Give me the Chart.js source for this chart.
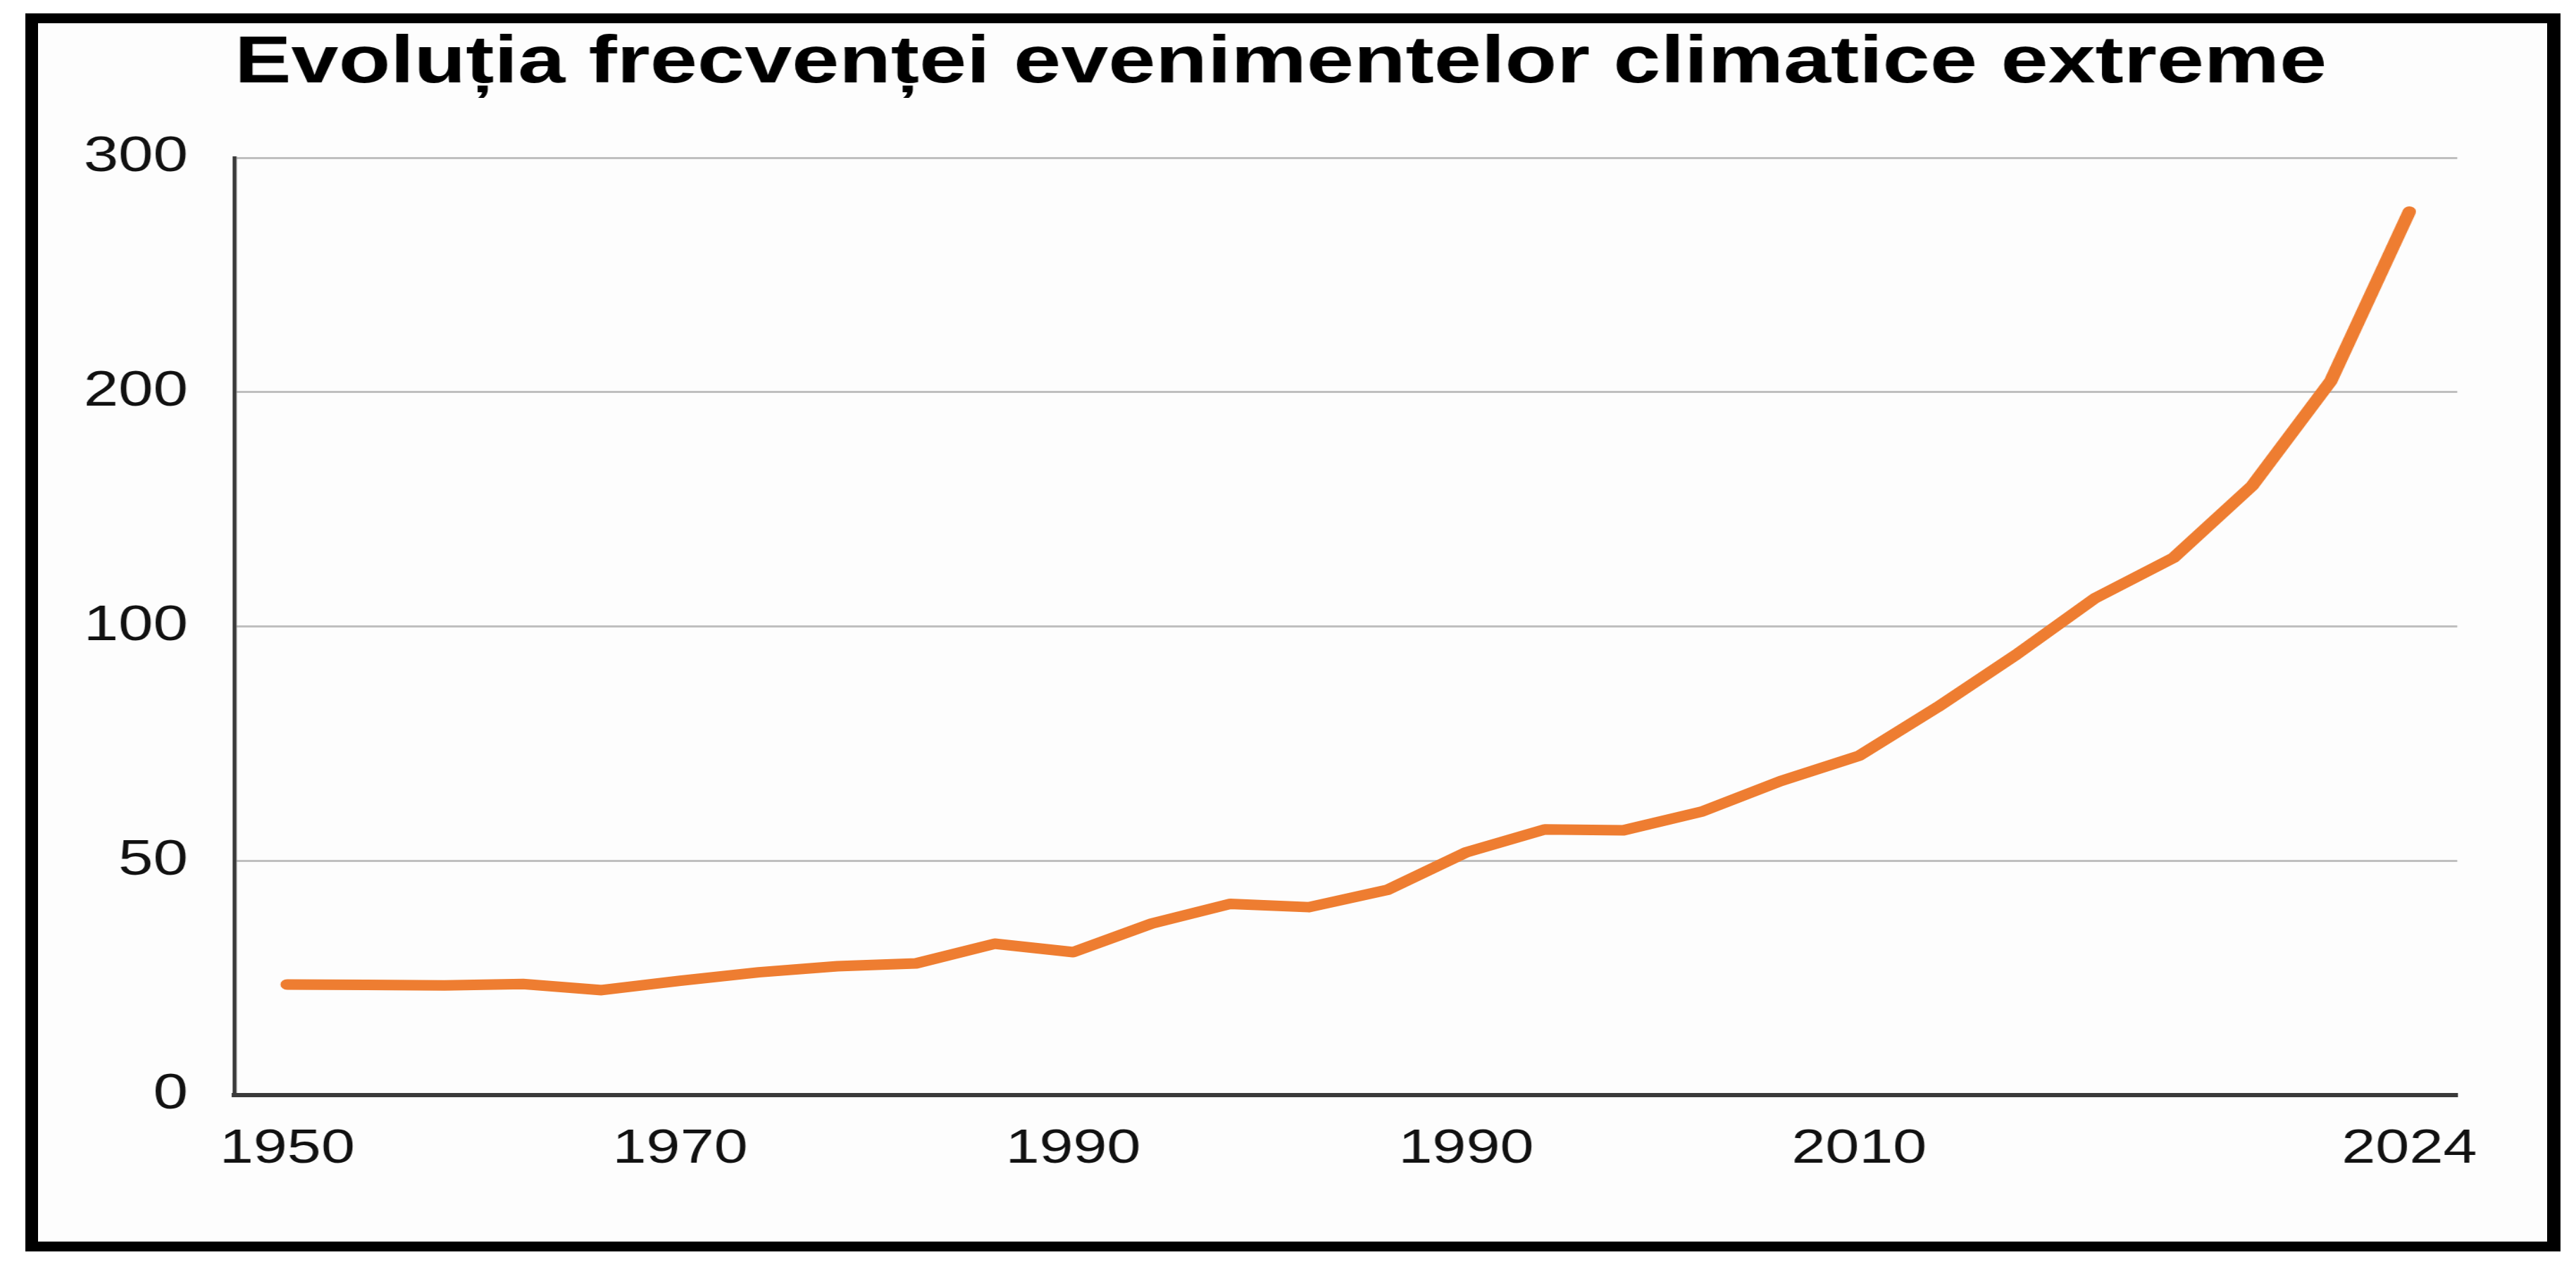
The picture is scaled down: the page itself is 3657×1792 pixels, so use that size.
<!DOCTYPE html>
<html>
<head>
<meta charset="utf-8">
<script src="https://cdn.jsdelivr.net/npm/chart.js@4.4.1/dist/chart.umd.min.js"></script>
<style>
  html, body { margin: 0; padding: 0; background: #ffffff; width: 3657px; height: 1792px; overflow: hidden; }
  #frame { position: absolute; left: 36px; top: 19px; width: 3599px; height: 1758px; box-sizing: border-box;
           border-style: solid; border-color: #000; border-width: 14px 19px 14px 18px; background: #fdfdfd; }
  #c { position: absolute; left: 0; top: 0; }
</style>
</head>
<body>
<div id="frame"></div>
<canvas id="c"></canvas>
<script>
// ---- data ----
const titleText = 'Evoluția frecvenței evenimentelor climatice extreme';
const values = [23.6, 23.5, 23.4, 23.7, 22.4, 24.4, 26.2, 27.5, 28.1, 32.3, 30.5, 36.6, 40.8, 40.1,
                43.8, 51.8, 56.7, 56.5, 60.5, 67.0, 72.4, 82.8, 94.0, 112.0, 129.3, 160.0, 204.7, 277.0];
const pointIndex = values.map((_, i) => i);
const xTickPositions = [0, 5, 10, 15, 20, 27];
const xTickLabels = ['1950', '1970', '1990', '1990', '2010', '2024'];
const yTickValues = [0, 50, 100, 200, 300];
const yTickLabels = ['0', '50', '100', '200', '300'];

// ---- horizontal stretch of the original picture ----
const S = 1.27;
const W = Math.round(3657 / S);
const H = 1792;
const canvas = document.getElementById('c');
canvas.width = W;
canvas.height = H;
canvas.style.width = '3657px';
canvas.style.height = H + 'px';

// value axis whose ticks are evenly spaced (0, 50, 100, 200, 300)
function valueToPos(v) {
  const t = yTickValues;
  for (let i = 0; i < t.length - 1; i++) {
    if (v <= t[i + 1]) return i + (v - t[i]) / (t[i + 1] - t[i]);
  }
  const n = t.length - 1;
  return n - 1 + (v - t[n - 1]) / (t[n] - t[n - 1]);
}
function posToValue(p) {
  const t = yTickValues;
  let i = Math.max(0, Math.min(t.length - 2, Math.floor(p)));
  return t[i] + (p - i) * (t[i + 1] - t[i]);
}
class BreakScale extends Chart.LinearScale {
  getPixelForValue(value) {
    if (value === null || value === undefined || isNaN(value)) return NaN;
    return this.getPixelForDecimal(valueToPos(value) / (yTickValues.length - 1));
  }
  getValueForPixel(pixel) {
    return posToValue(this.getDecimalForPixel(pixel) * (yTickValues.length - 1));
  }
}
BreakScale.id = 'breakLinear';
BreakScale.defaults = Object.assign({}, Chart.LinearScale.defaults);
Chart.register(BreakScale);

const FONT = "'Liberation Sans', Arial, Helvetica, sans-serif";

new Chart(canvas, {
  type: 'line',
  data: {
    labels: pointIndex,
    datasets: [{
      data: values,
      borderColor: '#EE7D31',
      backgroundColor: '#EE7D31',
      borderWidth: 15,
      pointRadius: 0,
      tension: 0,
      borderJoinStyle: 'round',
      borderCapStyle: 'round',
      fill: false
    }]
  },
  options: {
    responsive: false,
    devicePixelRatio: 1,
    animation: false,
    events: [],
    layout: { padding: { left: 0, right: W - 3489 / S, top: 0, bottom: 0 } },
    plugins: {
      legend: { display: false },
      tooltip: { enabled: false },
      title: {
        display: true,
        text: titleText,
        align: 'start',
        fullSize: false,
        color: '#000',
        font: { family: FONT, size: 95, weight: 'bold', lineHeight: 1.2 },
        padding: { top: 34, bottom: 76 }
      }
    },
    scales: {
      x: {
        type: 'linear',
        min: -0.67,
        max: 27.61,
        grid: { display: false, drawTicks: false },
        border: { display: true, color: '#3a3a3a', width: 6 },
        afterBuildTicks: (scale) => { scale.ticks = xTickPositions.map(v => ({ value: v })); },
        afterFit: (scale) => { scale.height = H - 1555; },
        ticks: {
          autoSkip: false,
          maxRotation: 0,
          padding: 36,
          color: '#111',
          font: { family: FONT, size: 68 },
          callback: (v) => { const k = xTickPositions.indexOf(v); return k >= 0 ? xTickLabels[k] : ''; }
        }
      },
      y: {
        type: 'breakLinear',
        min: 0,
        max: 300,
        grid: { display: true, color: '#bfbfbf', lineWidth: 3, drawTicks: false },
        border: { display: true, color: '#3a3a3a', width: 4.5 },
        afterBuildTicks: (scale) => { scale.ticks = yTickValues.map(v => ({ value: v })); },
        afterFit: (scale) => { scale.width = 333 / S; },
        ticks: {
          autoSkip: false,
          padding: 52,
          color: '#111',
          font: { family: FONT, size: 70 },
          callback: (v) => { const k = yTickValues.indexOf(v); return k >= 0 ? yTickLabels[k] : ''; }
        }
      }
    }
  }
});
</script>
</body>
</html>
